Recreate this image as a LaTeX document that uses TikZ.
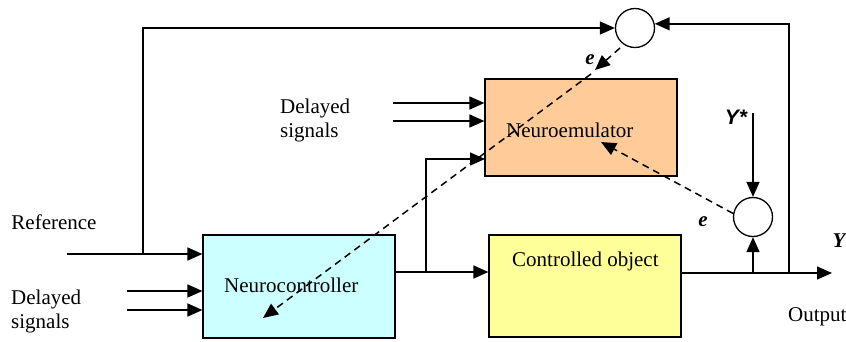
\documentclass[tikz,border=0pt]{standalone}
\usepackage{fontspec}
\setmainfont{Liberation Serif}
\newfontfamily\sansf{Liberation Sans}
\usetikzlibrary{arrows.meta}
\definecolor{ncfill}{HTML}{CCFFFF}
\definecolor{nefill}{HTML}{FFCC99}
\definecolor{cofill}{HTML}{FFFF99}
\begin{document}
\begin{tikzpicture}[x=1pt,y=-1pt,
  box/.style={draw=black,line width=1.2pt,inner sep=0pt,minimum width=192pt},
  sumc/.style={draw=black,line width=1.3pt,circle,inner sep=0pt,minimum size=39pt},
  wire/.style={line width=1.5pt},
  arr/.style={wire,-{Triangle[length=15pt,width=13pt]}},
  darr/.style={line width=1.5pt,dash pattern=on 7pt off 5pt,-{Triangle[length=15pt,width=13pt]}},
  txt/.style={font=\fontsize{21}{24}\selectfont,inner sep=0pt},
  lbl/.style={font=\fontsize{21}{24}\bfseries\itshape,inner sep=0pt}]
\useasboundingbox (0,0) rectangle (846,341);
% boxes
\node[box,fill=ncfill,minimum height=103pt] (nc) at (299,286.5) {};
\node[box,fill=nefill,minimum height=97pt] (ne) at (581,127.5) {};
\node[box,fill=cofill,minimum height=102pt] (co) at (585,286) {};
\node[sumc] (c1) at (635,28) {};
\node[sumc] (c2) at (753,217) {};
% box texts
\node[txt,anchor=base west] (tnc) at (224,292) {Neurocontroller};
\node[txt,anchor=base west] (tne) at (506,137) {Neuroemulator};
\node[txt,anchor=base west] (tco) at (512,266) {Controlled object};
% other texts
\node[txt] (tref) at (54,222) {Reference};
\node[txt,anchor=west,align=left] (tdl1) at (11,311) {Delayed\\signals};
\node[txt,anchor=west,align=left] (tdl2) at (280,120) {Delayed\\signals};
\node[txt,anchor=base west] (tout) at (788,321) {Output};
\node[lbl,font=\fontsize{21}{24}\sansf\bfseries\itshape] (tys) at (736,117) {Y*};
\node[lbl] (ty) at (839,241) {Y};
\node[lbl] (te1) at (590,60) {e};
\node[lbl] (te2) at (703,222) {e};
% coordinates
\coordinate (refin) at (67,254);
\coordinate (brref) at (143,254);
\coordinate (d1a) at (127,291);
\coordinate (d1b) at (127,310);
\coordinate (d2a) at (393,103);
\coordinate (d2b) at (393,121);
\coordinate (ncout) at (395,272);
\coordinate (brnc) at (426,272);
\coordinate (neIn) at (485,159);
\coordinate (coout) at (681,273);
\coordinate (brc2) at (753,273);
\coordinate (brout) at (789,273);
\coordinate (outend) at (832,273);
\coordinate (ystar) at (753,113);
\coordinate (eTop) at (620,48);
\coordinate (eMid) at (595,70);
\coordinate (eMid2) at (591,74);
\coordinate (ncTip) at (263,318);
\coordinate (neTip) at (601,142);
% connectors
\draw[arr] (refin) -- (refin -| nc.west);
\draw[arr] (brref) |- (c1.west);
\draw[arr] (d1a) -- (d1a -| nc.west);
\draw[arr] (d1b) -- (d1b -| nc.west);
\draw[arr] (d2a) -- (d2a -| ne.west);
\draw[arr] (d2b) -- (d2b -| ne.west);
\draw[arr] (ncout) -- (ncout -| co.west);
\draw[arr] (brnc) |- (neIn);
\draw[arr] (coout) -- (outend);
\draw[arr] (brout) |- (c1.12);
\draw[arr] (brc2) -- (c2.south);
\draw[arr] (ystar) -- (c2.north);
\draw[darr] (c2.170) -- (neTip);
\draw[darr] (eTop) -- (eMid);
\draw[darr] (eMid2) -- (ncTip);
\end{tikzpicture}
\end{document}
